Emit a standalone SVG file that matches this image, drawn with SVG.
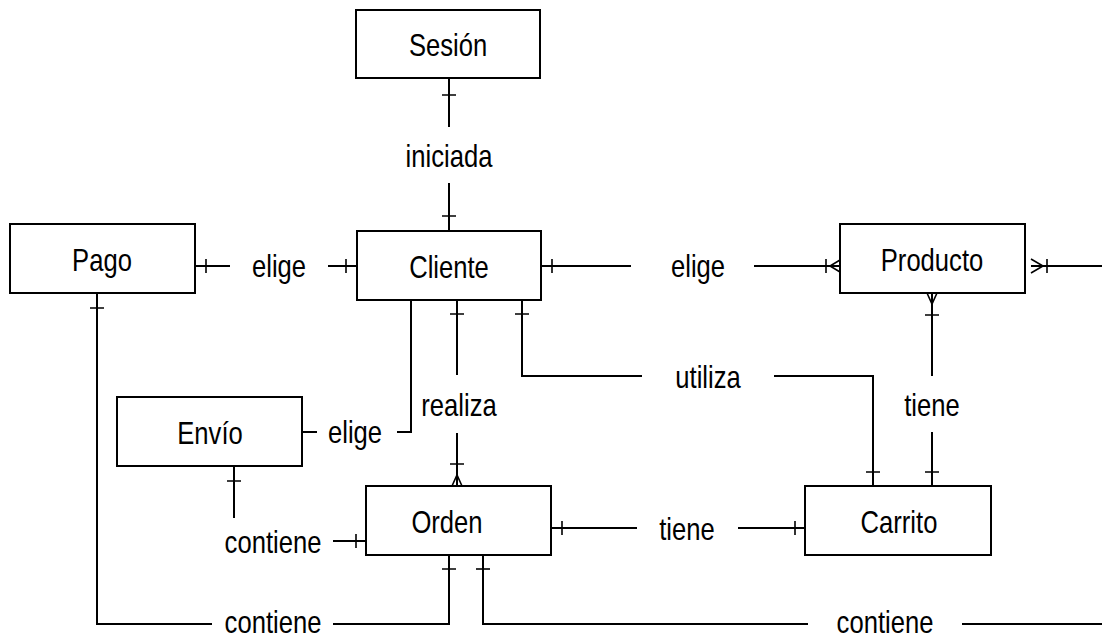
<svg xmlns="http://www.w3.org/2000/svg" width="1102" height="641" viewBox="0 0 1102 641">
  <style>
    .box { fill: #ffffff; stroke: #000000; stroke-width: 2; }
    .edge { fill: none; stroke: #000000; stroke-width: 2; }
    .mark { fill: none; stroke: #000000; stroke-width: 1.6; }
    /* narrow sans: regular Liberation Sans squeezed horizontally via the text transforms */
    text { font-family: "Liberation Sans", Arial, sans-serif; font-size: 32px; fill: #000000; text-anchor: middle; }
  </style>
  <rect width="1102" height="641" fill="#ffffff"/>

  <!-- relationships -->
  <g id="connectors">
    <!-- Sesión — iniciada — Cliente -->
    <g id="rel-iniciada">
      <path class="edge" d="M449 78 V127 M449 183 V231"/>
      <path class="mark" d="M442 95 H456 M442 216 H456"/>
      <text transform="translate(449 167) scale(0.8 1)">iniciada</text>
    </g>
    <!-- Pago — elige — Cliente -->
    <g id="rel-pago-elige">
      <path class="edge" d="M195 266 H230 M328 266 H357"/>
      <path class="mark" d="M206 259 V273 M346 259 V273"/>
      <text transform="translate(279 277) scale(0.8 1)">elige</text>
    </g>
    <!-- Cliente — elige — Producto -->
    <g id="rel-producto-elige">
      <path class="edge" d="M541 266 H631 M754 266 H840"/>
      <path class="mark" d="M552 259 V273 M826 259 V273 M840 260 L830 266 L840 272"/>
      <text transform="translate(698 277) scale(0.8 1)">elige</text>
    </g>
    <!-- Producto — (continues past the right edge) -->
    <g id="rel-producto-right">
      <path class="edge" d="M1031 266 H1102"/>
      <path class="mark" d="M1031 259 L1043 266 L1031 273 M1047 259 V273"/>
    </g>
    <!-- Cliente — elige — Envío -->
    <g id="rel-envio-elige">
      <path class="edge" d="M411 300 V432 H397 M317 432 H302"/>
      <text transform="translate(355 443) scale(0.8 1)">elige</text>
    </g>
    <!-- Cliente — realiza — Orden -->
    <g id="rel-realiza">
      <path class="edge" d="M457 300 V375 M457 433 V486"/>
      <path class="mark" d="M450 314 H464 M450 464 H464 M452 486 L457 475 L462 486"/>
      <text transform="translate(459 416) scale(0.8 1)">realiza</text>
    </g>
    <!-- Cliente — utiliza — Carrito -->
    <g id="rel-utiliza">
      <path class="edge" d="M522 300 V376 H642 M774 376 H873 V486"/>
      <path class="mark" d="M515 314 H529 M866 472 H880"/>
      <text transform="translate(708 388) scale(0.8 1)">utiliza</text>
    </g>
    <!-- Producto — tiene — Carrito -->
    <g id="rel-producto-tiene">
      <path class="edge" d="M932 293 V376 M932 432 V486"/>
      <path class="mark" d="M927 293 L932 304 L937 293 M925 315 H939 M925 472 H939"/>
      <text transform="translate(932 416) scale(0.8 1)">tiene</text>
    </g>
    <!-- Envío — contiene — Orden -->
    <g id="rel-envio-contiene">
      <path class="edge" d="M234 466 V518 M333 541 H366"/>
      <path class="mark" d="M227 481 H241 M356 534 V548"/>
      <text transform="translate(273 553) scale(0.8 1)">contiene</text>
    </g>
    <!-- Orden — tiene — Carrito -->
    <g id="rel-orden-tiene">
      <path class="edge" d="M551 528 H637 M738 528 H805"/>
      <path class="mark" d="M562 521 V535 M795 521 V535"/>
      <text transform="translate(687 540) scale(0.8 1)">tiene</text>
    </g>
    <!-- Pago — contiene — Orden -->
    <g id="rel-pago-contiene">
      <path class="edge" d="M97 293 V624 H212 M333 624 H449 V555"/>
      <path class="mark" d="M90 308 H104 M442 569 H456"/>
      <text transform="translate(273 633) scale(0.8 1)">contiene</text>
    </g>
    <!-- Orden — contiene — (continues past the right edge) -->
    <g id="rel-orden-contiene">
      <path class="edge" d="M483 555 V624 H808 M962 624 H1102"/>
      <path class="mark" d="M476 569 H490"/>
      <text transform="translate(885 633) scale(0.8 1)">contiene</text>
    </g>
  </g>

  <!-- entities -->
  <g id="sesion">
    <rect class="box" x="356" y="10" width="184" height="68"/>
    <text transform="translate(448 56) scale(0.8 1)">Sesión</text>
  </g>
  <g id="cliente">
    <rect class="box" x="357" y="231" width="184" height="69"/>
    <text transform="translate(449 278) scale(0.8 1)">Cliente</text>
  </g>
  <g id="pago">
    <rect class="box" x="10" y="224" width="185" height="69"/>
    <text transform="translate(102 271) scale(0.8 1)">Pago</text>
  </g>
  <g id="producto">
    <rect class="box" x="840" y="224" width="185" height="69"/>
    <text transform="translate(932 271) scale(0.8 1)">Producto</text>
  </g>
  <g id="envio">
    <rect class="box" x="117" y="397" width="185" height="69"/>
    <text transform="translate(210 444) scale(0.8 1)">Envío</text>
  </g>
  <g id="orden">
    <rect class="box" x="366" y="486" width="185" height="69"/>
    <text transform="translate(447 533) scale(0.8 1)">Orden</text>
  </g>
  <g id="carrito">
    <rect class="box" x="805" y="486" width="186" height="69"/>
    <text transform="translate(899 533) scale(0.8 1)">Carrito</text>
  </g>
</svg>
